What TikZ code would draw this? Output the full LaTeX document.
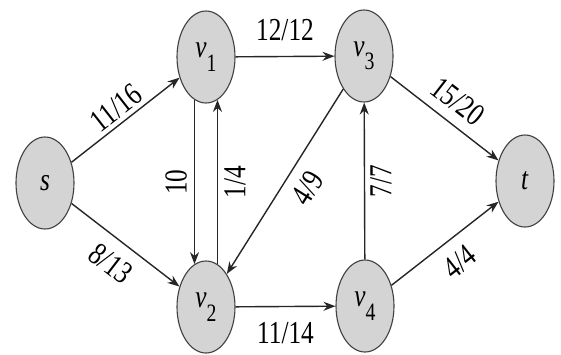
\documentclass[tikz,border=0pt]{standalone}
\usepackage{fontspec}
\setmainfont{Liberation Serif}
\usetikzlibrary{shapes.geometric,arrows.meta}
\newcommand\nt[1]{\scalebox{0.79}[1]{#1}}
\newcommand\vsub[2]{\nt{\textit{#1}\raisebox{-0.42em}{\fontsize{25}{27}\selectfont #2}}}
\begin{document}
\begin{tikzpicture}[x=1pt,y=-1pt,
  vtx/.style={ellipse, draw=black!75, line width=1.1pt, fill=black!17,
    minimum width=58pt, minimum height=92pt, inner sep=0pt,
    font=\fontsize{32}{34}\selectfont},
  edge/.style={draw=black!85, line width=1.4pt, -{Stealth[length=12pt,width=9pt]}},
  lbl/.style={font=\fontsize{32}{34}\selectfont, inner sep=1pt}]
\useasboundingbox[fill=white] (0,0) rectangle (561,354);
\node[vtx] (s)  at (45,183)  {\nt{\textit{s}}};
\node[vtx] (v1) at (206,57)  {\vsub{v}{1}};
\node[vtx] (v3) at (364,56)  {\vsub{v}{3}};
\node[vtx] (t)  at (525,181) {\nt{\textit{t}}};
\node[vtx] (v2) at (206,307) {\vsub{v}{2}};
\node[vtx] (v4) at (365,306) {\vsub{v}{4}};
\draw[edge] (s) -- node[lbl,sloped,above=3pt] {\nt{11/16}} (v1);
\draw[edge] (s) -- node[lbl,sloped,below=11pt] {\nt{8/13}} (v2);
\draw[edge] (v1) -- node[lbl,above=14pt] {\nt{12/12}} (v3);
\draw[edge] (v1.255) -- node[lbl,rotate=90,above=6pt] {\nt{10}} (v2.105);
\draw[edge] (v2.75) -- node[lbl,rotate=90,below=5pt] {\nt{1/4}} (v1.285);
\draw[edge] (v3) -- node[lbl,sloped,below=10pt,pos=0.47] {\nt{4/9}} (v2);
\draw[edge] (v2) -- node[lbl,below=14pt] {\nt{11/14}} (v4);
\draw[edge] (v4) -- node[lbl,rotate=90,below=4pt] {\nt{7/7}} (v3);
\draw[edge] (v3) -- node[lbl,sloped,above=9pt] {\nt{15/20}} (t);
\draw[edge] (v4) -- node[lbl,sloped,below=11pt] {\nt{4/4}} (t);
\end{tikzpicture}
\end{document}
